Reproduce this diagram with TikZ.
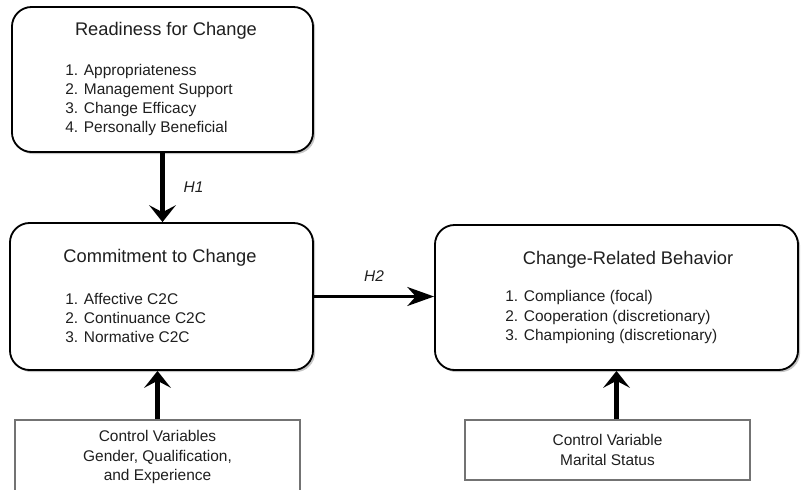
\documentclass[tikz,border=0pt]{standalone}
\usepackage{fontspec}
\setmainfont{Liberation Sans}
\usepackage{xcolor}
\definecolor{boxtext}{gray}{0.12}
\definecolor{ctrlline}{gray}{0.45}
\usetikzlibrary{arrows.meta,shadows}

\begin{document}
\begin{tikzpicture}[auto,x=0.025cm,y=-0.025cm,>={Stealth[length=12pt,width=19pt,inset=5pt]}]
\useasboundingbox (0,0) rectangle (802,489);
\tikzset{
	boxA/.style={
		rectangle,
		rounded corners=14pt,
		draw=black,
		line width=1.3pt,
		fill=white,
		drop shadow={shadow xshift=1.5pt, shadow yshift=-1.5pt, fill=black!45}
	},
	boxB/.style={
		rectangle,
		align=center,
		draw=ctrlline,
		line width=0.8pt,
		fill=white,
		text=boxtext,
		font=\fontsize{11}{14}\selectfont,
		minimum width=7.125cm
	},
	head/.style={
		inner sep=0pt,
		text=boxtext,
		font=\fontsize{13}{15}\selectfont
	},
	list/.style={
		inner sep=0pt,
		anchor=west,
		align=left,
		text=boxtext,
		font=\fontsize{11}{13.6}\selectfont
	},
	hyp/.style={
		text=boxtext,
		font=\fontsize{11}{13}\selectfont\itshape
	},
	bigarrow/.style={->, line width=3.5pt},
	thinarrow/.style={-{Stealth[length=19pt,width=13.5pt,inset=6pt]}, line width=2pt},
}

% rounded boxes
\node (a) [boxA, minimum width=7.525cm, minimum height=3.625cm] at (162.5,79.5) {};
\node (a1) [head] at (166,31) {Readiness for Change};
\node (a2) [list] at (65,100) {1. Appropriateness\\ 2. Management Support\\ 3. Change Efficacy\\ 4. Personally Beneficial};

\node (b) [boxA, minimum width=7.575cm, minimum height=3.675cm] at (161.5,296.5) {};
\node (b1) [head] at (160,258) {Commitment to Change};
\node (b2) [list] at (65,318) {1. Affective C2C\\ 2. Continuance C2C\\ 3. Normative C2C};

\node (c) [boxA, minimum width=9.075cm, minimum height=3.625cm] at (616.5,297.5) {};
\node (c1) [head] at (628,260) {Change-Related Behavior};
\node (c2) [list] at (505,317) {1. Compliance (focal)\\ 2. Cooperation (discretionary)\\ 3. Championing (discretionary)};

% control boxes
\node (d) [boxB, minimum height=1.85cm] at (157.5,457) {Control Variables\\ Gender, Qualification,\\ and Experience};
\node (e) [boxB, minimum height=1.5cm] at (607.5,450) {Control Variable\\ Marital Status};

\draw [bigarrow] (a.south) -- (a.south |- b.north) node [hyp, midway, right=10pt] (h1) {H1};
\draw [thinarrow] (b.east) -- (b.east -| c.west) node [hyp, midway, above=6pt] (h2) {H2};
\draw [bigarrow] (d.north) -- (d.north |- b.south);
\draw [bigarrow] (c.south |- e.north) -- (c.south);
\end{tikzpicture}
\end{document}
